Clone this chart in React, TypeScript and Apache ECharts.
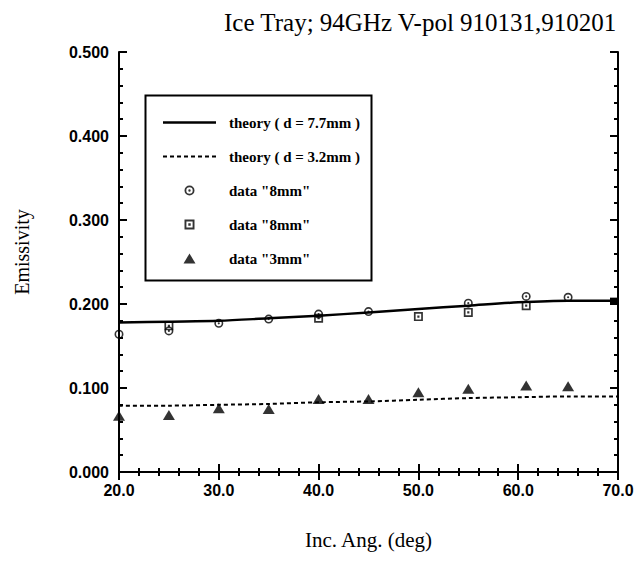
import React, { useEffect, useRef } from "react";
import * as echarts from "echarts";

// Incidence angles (deg) and measured / modelled emissivities
const thickAngles = [20, 25, 30, 35, 40, 45, 50, 55, 60, 65, 70];
const theoryThick = [0.178, 0.179, 0.18, 0.183, 0.186, 0.19, 0.194, 0.198, 0.202, 0.204, 0.204];
const theoryThin = [0.079, 0.079, 0.08, 0.081, 0.083, 0.084, 0.086, 0.088, 0.089, 0.09, 0.09];

const circleAngles = [20, 25, 30, 35, 40, 45, 55, 60.8, 65];
const circleValues = [0.164, 0.168, 0.177, 0.182, 0.188, 0.191, 0.201, 0.209, 0.208];

const squareAngles = [25, 40, 50, 55, 60.8];
const squareValues = [0.174, 0.183, 0.185, 0.19, 0.198];

const triangleAngles = [20, 25, 30, 35, 40, 45, 50, 55, 60.8, 65];
const triangleValues = [0.067, 0.068, 0.076, 0.075, 0.087, 0.087, 0.095, 0.099, 0.103, 0.102];

const legendNames = [
  "theory ( d = 7.7mm )",
  "theory ( d = 3.2mm )",
  'data "8mm"',
  'data "8mm" ',
  'data "3mm"',
];

const titleText = "Ice Tray; 94GHz V-pol 910131,910201";
const xName = "Inc. Ang. (deg)";
const yName = "Emissivity";

// ring with a centre dot, and open square with a centre dot
const dotCircle =
  "path://M10 0A10 10 0 1 1 10 20A10 10 0 1 1 10 0ZM10 3.6A6.4 6.4 0 1 0 10 16.4A6.4 6.4 0 1 0 10 3.6ZM10 7.6A2.4 2.4 0 1 1 10 12.4A2.4 2.4 0 1 1 10 7.6Z";
const dotSquare =
  "path://M0 0H20V20H0ZM3.8 3.8V16.2H16.2V3.8ZM7.6 7.6H12.4V12.4H7.6Z";
const triangleIcon = "path://M6 0L12 10H0Z";

// legend swatches for the two theory curves
const solidIcon = "path://M0 0H53V2.5H0Z";
const dashedIcon =
  "path://" +
  [0, 7, 14, 21, 28, 35, 42, 49].map((x) => `M${x} 0h4v2h-4Z`).join("");

const pairs = (xs: number[], ys: number[]) => xs.map((x, i) => [x, ys[i]]);

export default function App() {
  const ref = useRef<HTMLDivElement>(null);

  useEffect(() => {
    if (!ref.current) return;
    const chart = echarts.init(ref.current, null, { renderer: "svg" });

    const tickLabel = {
      color: "#000",
      fontFamily: "Liberation Sans",
      fontWeight: "bold" as const,
      fontSize: 16,
    };
    const axisLine = { show: true, lineStyle: { color: "#000", width: 2 } };
    const ticks = {
      axisTick: { show: true, inside: true, length: 8, lineStyle: { color: "#000", width: 2 } },
      minorTick: { show: true, splitNumber: 5, length: 4, lineStyle: { color: "#000", width: 2 } },
      splitLine: { show: false },
      minorSplitLine: { show: false },
    };

    const xCommon = { type: "value" as const, min: 20, max: 70, interval: 10, axisLine, ...ticks };
    const yCommon = { type: "value" as const, min: 0, max: 0.5, interval: 0.1, axisLine, ...ticks };

    const thickData: any[] = pairs(thickAngles, theoryThick);
    // filled end marker on the thick-ice curve
    thickData[thickData.length - 1] = {
      value: thickData[thickData.length - 1],
      symbol: "rect",
      symbolSize: [8, 6],
      symbolOffset: [-4, 0],
      itemStyle: { color: "#000" },
    };

    chart.setOption({
      animation: false,
      backgroundColor: "#fff",
      title: {
        text: titleText,
        left: 219,
        top: 5,
        textStyle: {
          fontFamily: "Liberation Serif",
          fontWeight: "normal",
          fontSize: 25,
          color: "#000",
        },
      },
      grid: { left: 119, right: 20, top: 52, bottom: 89 },
      legend: {
        orient: "vertical",
        left: 143,
        top: 93,
        padding: [22, 9, 12, 20],
        itemWidth: 53,
        itemHeight: 10,
        itemGap: 19,
        selectedMode: false,
        data: [
          { name: legendNames[0], icon: solidIcon },
          { name: legendNames[1], icon: dashedIcon },
          { name: legendNames[2], icon: dotCircle },
          { name: legendNames[3], icon: dotSquare },
          { name: legendNames[4], icon: triangleIcon },
        ],
        textStyle: {
          fontFamily: "Liberation Serif",
          fontWeight: "bold",
          fontSize: 15,
          lineHeight: 14,
          color: "#000",
          padding: [0, 0, 0, 8],
        },
      },
      graphic: [
        {
          type: "rect",
          left: 143,
          top: 93,
          shape: { width: 226, height: 185 },
          style: { fill: "none", stroke: "#000", lineWidth: 2 },
          z: 1,
        },
      ],
      xAxis: [
        {
          ...xCommon,
          position: "bottom",
          name: xName,
          nameLocation: "middle",
          nameGap: 57,
          nameTextStyle: { fontFamily: "Liberation Serif", fontSize: 21, color: "#000" },
          axisLabel: { ...tickLabel, margin: 10, formatter: (v: number) => v.toFixed(1) },
        },
        { ...xCommon, position: "top", axisLabel: { show: false } },
      ],
      yAxis: [
        {
          ...yCommon,
          position: "left",
          name: yName,
          nameLocation: "middle",
          nameRotate: 90,
          nameGap: 87,
          nameTextStyle: {
            fontFamily: "Liberation Serif",
            fontSize: 20,
            color: "#000",
            padding: [0, 0, 0, 20],
          },
          axisLabel: { ...tickLabel, margin: 10, formatter: (v: number) => v.toFixed(3) },
        },
        { ...yCommon, position: "right", axisLabel: { show: false } },
      ],
      series: [
        {
          name: legendNames[0],
          type: "line",
          data: thickData,
          symbol: "none",
          smooth: 0.3,
          lineStyle: { color: "#000", width: 2.5 },
          itemStyle: { color: "#000" },
          z: 3,
        },
        {
          name: legendNames[1],
          type: "line",
          data: pairs(thickAngles, theoryThin),
          symbol: "none",
          smooth: 0.3,
          lineStyle: { color: "#000", width: 2, type: [4, 3] },
          itemStyle: { color: "#000" },
          z: 3,
        },
        {
          name: legendNames[2],
          type: "scatter",
          data: pairs(circleAngles, circleValues),
          symbol: dotCircle,
          symbolSize: 9,
          itemStyle: { color: "#000" },
          z: 4,
        },
        {
          name: legendNames[3],
          type: "scatter",
          data: pairs(squareAngles, squareValues),
          symbol: dotSquare,
          symbolSize: 9,
          itemStyle: { color: "#000" },
          z: 4,
        },
        {
          name: legendNames[4],
          type: "scatter",
          data: pairs(triangleAngles, triangleValues),
          symbol: triangleIcon,
          symbolSize: [12, 10],
          itemStyle: { color: "#000" },
          z: 4,
        },
      ],
    });

    return () => chart.dispose();
  }, []);

  return <div ref={ref} style={{ width: 638, height: 561, position: "fixed", left: 0, top: 0 }} />;
}
